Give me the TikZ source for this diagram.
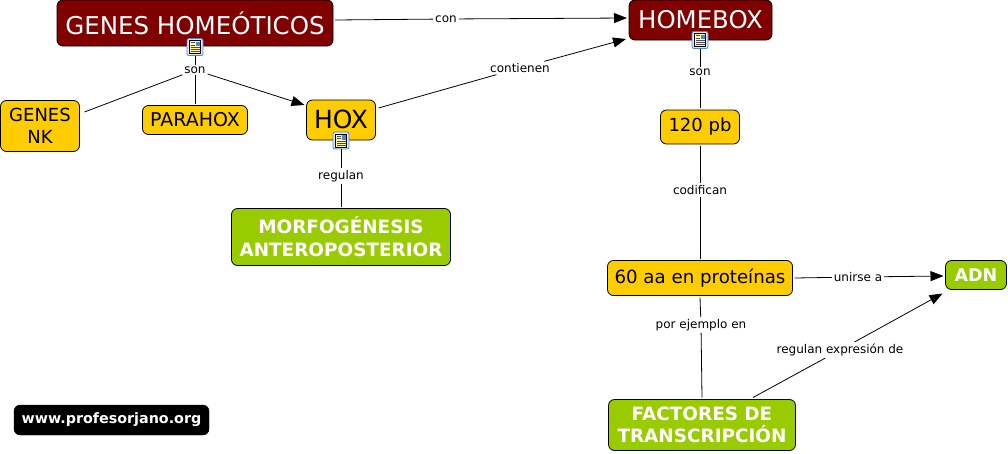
\documentclass[tikz,border=0pt]{standalone}
\usepackage{fontspec}
\setmainfont{DejaVu Sans}
\usetikzlibrary{arrows.meta,calc}
\definecolor{cmaroon}{HTML}{800000}
\definecolor{cgold}{HTML}{FFCC00}
\definecolor{cgreen}{HTML}{99CC00}
\definecolor{iconblue}{HTML}{4F86D0}
\definecolor{iconpale}{HTML}{DCE9FA}
\definecolor{iconyellow}{HTML}{FFF7B0}
\newcommand{\fs}[1]{\fontsize{#1}{#1}\selectfont}
\tikzset{
 x=1pt,y=-1pt,
 concept/.style={draw=black,line width=.8pt,rounded corners=6pt,align=center,inner sep=0pt,outer sep=2pt,text=black},
 redbox/.style={concept,fill=cmaroon,text=white},
 goldbox/.style={concept,fill=cgold},
 greenbox/.style={concept,fill=cgreen,text=white,font=\bfseries},
 linklabel/.style={font=\fs{12},inner sep=2pt,outer sep=0pt,text=black},
 link/.style={draw=black,line width=.8pt},
 arrowlink/.style={link,-{Triangle[length=13pt,width=10pt]}},
 iconbox/.style={draw=iconblue,fill=iconpale,line width=.8pt,rounded corners=2pt,minimum width=16pt,minimum height=17pt,inner sep=0pt,outer sep=0pt},
}
\newcommand{\docicon}[2]{%
 \node[iconbox] (#1) at (#2) {};
 \fill[iconyellow,draw=black,line width=.6pt] ($(#1)+(-5.5,-6.5)$) rectangle ($(#1)+(5.5,6.5)$);
 \fill[black!70] ($(#1)+(-4.5,-5)$) rectangle ($(#1)+(-.5,-4)$);
 \fill[black!70] ($(#1)+(-4.5,-2.5)$) rectangle ($(#1)+(-.5,-1.5)$);
 \fill[black!70] ($(#1)+(-4.5,0)$) rectangle ($(#1)+(4.5,1)$);
 \fill[black!70] ($(#1)+(-4.5,2)$) rectangle ($(#1)+(4.5,3)$);
 \fill[black!70] ($(#1)+(-4.5,4)$) rectangle ($(#1)+(4.5,5)$);
 \fill[iconblue] ($(#1)+(0.5,-5.5)$) rectangle ($(#1)+(4.5,-1)$);
}
\begin{document}
\begin{tikzpicture}
\useasboundingbox (0,0) rectangle (1008,453);
% concepts
\node[redbox,minimum width=276pt,minimum height=46pt,font=\fs{24.5}] (gh) at (195,23) {GENES HOMEÓTICOS};
\node[redbox,minimum width=143pt,minimum height=40pt,font=\fs{24.4}] (hb) at (700.5,20) {HOMEBOX};
\node[goldbox,minimum width=79pt,minimum height=51pt,font=\fs{18}] (gnk) at (40,126) {GENES\\[4.5pt]NK};
\node[goldbox,minimum width=105pt,minimum height=29pt,font=\fs{19}] (ph) at (195,120) {PARAHOX};
\node[goldbox,minimum width=69pt,minimum height=40pt,font=\fs{25}] (hox) at (341,120) {\raisebox{1.5pt}{HOX}};
\node[greenbox,minimum width=219pt,minimum height=57pt,font=\fs{18.4}\bfseries] (mo) at (341,237) {MORFOGÉNESIS\\[4.5pt]ANTEROPOSTERIOR};
\node[goldbox,minimum width=79pt,minimum height=34pt,font=\fs{18}] (pb) at (700,127) {120 pb};
\node[goldbox,minimum width=185pt,minimum height=35pt,font=\fs{18.2}] (aa) at (700,278) {60 aa en proteínas};
\node[greenbox,minimum width=61pt,minimum height=29pt,font=\fs{17.5}\bfseries] (adn) at (976,275) {ADN};
\node[greenbox,minimum width=187pt,minimum height=51pt,font=\fs{18.4}\bfseries] (ft) at (702,425) {FACTORES DE\\[4pt]TRANSCRIPCIÓN};
\node[draw=black,fill=black,rounded corners=6pt,text=white,minimum width=195pt,minimum height=30pt,inner sep=0pt,font=\fs{14.3}\bfseries] (web) at (111.5,420) {www.profesorjano.org};
% icons
\docicon{ig}{195,47}
\docicon{ix}{341,140.5}
\docicon{ib}{700,40}
% labels
\node[linklabel] (lcon) at (446,19) {con};
\node[linklabel] (lson) at (195,70) {son};
\node[linklabel] (lcont) at (520,68) {contienen};
\node[linklabel] (lreg) at (341,176) {regulan};
\node[linklabel] (lsonb) at (700,72) {son};
\node[linklabel] (lcod) at (700,190) {codifican};
\node[linklabel] (luni) at (858,277) {unirse a};
\node[linklabel] (lej) at (701,325) {por ejemplo en};
\node[linklabel] (lexp) at (840,350) {regulan expresión de};
% connectors
\draw[link] ($(gh.east)+(0,-3)$) -- (lcon);
\draw[arrowlink] (lcon) -- ($(hb.west)+(0,-2)$);
\draw[link] (ig) -- (lson);
\draw[link] (lson) -- ($(gnk.east)+(3,-14)$);
\draw[link] (lson) -- (ph.north);
\draw[arrowlink] (lson) -- ($(hox.west)+(0,-15)$);
\draw[link] ($(hox.east)+(1,-12)$) -- (lcont);
\draw[arrowlink] (lcont) -- ($(hb.south west)+(-1,-3)$);
\draw[link] (ix) -- (lreg);
\draw[link] (lreg) -- (mo.north);
\draw[link] (ib) -- (lsonb);
\draw[link] (lsonb) -- (pb.north);
\draw[link] (pb.south) -- (lcod);
\draw[link] (lcod) -- (aa.north);
\draw[link] (aa.east) -- (luni);
\draw[arrowlink] (luni) -- ($(adn.west)+(0,1)$);
\draw[link] (aa.south) -- (lej);
\draw[link] (lej) -- (ft.north);
\draw[link] ($(ft.north)+(51,0)$) -- (lexp);
\draw[arrowlink] (lexp) -- ($(adn.south west)+(-1,2)$);
\end{tikzpicture}
\end{document}
